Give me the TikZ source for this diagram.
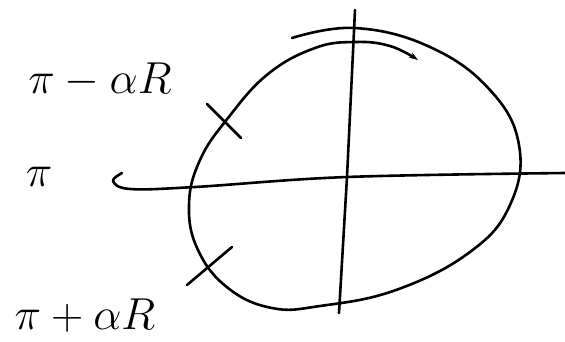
\documentclass[tikz,border=0pt]{standalone}
\usepackage{graphicx}
\usetikzlibrary{arrows.meta}
\begin{document}
\begin{tikzpicture}[x=1pt,y=-1pt,
  pen/.style={line width=2.6pt,line cap=round,line join=round},
  lbl/.style={font=\Huge,inner sep=0pt}]
\useasboundingbox (0,0) rectangle (565,341);
% vertical axis
\draw[pen] (355,10) -- (347,177) -- (339,313);
% horizontal axis with hook
\draw[pen] plot[smooth,tension=0.6] coordinates {(122,173) (113,181) (130,189) (195,187) (347,177) (565,173)};
% loop, ending with arrow
\draw[pen,-{Stealth[length=9pt,width=6pt]}] plot[smooth,tension=0.7] coordinates {
 (292,38) (355,28) (430,47) (490,90) (519,145) (510,205) (470,252)
 (396,290) (320,306) (272,308) (228,288) (198,250) (189,205) (200,160)
 (228,118) (268,74) (315,48) (355,42) (390,46) (418,60)};
% tick marks
\draw[pen] (207,104) -- (241,138);
\draw[pen] (232,247) -- (187,285);
% labels
\node[lbl] (a) at (100,80) {\scalebox{1.8}{$\pi-\alpha R$}};
\node[lbl] (b) at (39,177) {\scalebox{1.8}{$\pi$}};
\node[lbl] (c) at (85,316) {\scalebox{1.8}{$\pi+\alpha R$}};
\end{tikzpicture}
\end{document}
